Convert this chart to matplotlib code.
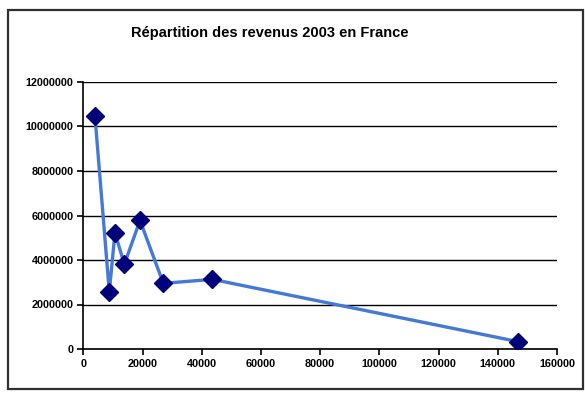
import matplotlib.pyplot as plt
from matplotlib.patches import Rectangle
from matplotlib.ticker import MultipleLocator, FuncFormatter

# revenu annuel (euros) et nombre de foyers par tranche
revenus = [3950, 8780, 10700, 13850, 19150, 27030, 43580, 146900]
foyers = [10450000, 2570000, 5230000, 3800000, 5780000, 2950000, 3130000, 330000]

titre = "Répartition des revenus 2003 en France"

W, H = 585, 394
fig = plt.figure(figsize=(W / 100, H / 100), dpi=100)
plt.rcParams['font.family'] = ['Liberation Sans', 'DejaVu Sans']

# cadre de la zone graphique
fig.patches.append(Rectangle((8 / W, 1 - 389 / H), 575 / W, 379 / H,
                             transform=fig.transFigure, fill=False,
                             edgecolor='#303030', linewidth=1.6))

ax = fig.add_axes([83.3 / W, 1 - 349 / H, (557 - 83.3) / W, (349 - 82) / H])
ax.plot(revenus, foyers, '-', color='#4479d6', linewidth=2.4, zorder=3)
ax.plot(revenus, foyers, 'D', color='#00007a', markersize=9.5, zorder=4,
        linestyle='none')

ax.set_xlim(0, 160000)
ax.set_ylim(0, 12000000)
ax.xaxis.set_major_locator(MultipleLocator(20000))
ax.yaxis.set_major_locator(MultipleLocator(2000000))
fmt = FuncFormatter(lambda v, p: f"{int(v)}")
ax.xaxis.set_major_formatter(fmt)
ax.yaxis.set_major_formatter(fmt)

ax.grid(axis='y', color='black', linewidth=1.0)
ax.set_axisbelow(True)
for s in ('top', 'right'):
    ax.spines[s].set_visible(False)
for s in ('left', 'bottom'):
    ax.spines[s].set_linewidth(1.2)
ax.tick_params(direction='out', length=4, width=1.2, pad=3,
               labelsize=7.8, colors='black')
for lab in ax.get_xticklabels() + ax.get_yticklabels():
    lab.set_fontweight('bold')

fig.text(270 / W, 1 - 33 / H, titre, ha='center', va='center',
         fontsize=10.5, fontweight='bold')

fig.savefig('out.png', dpi=100, facecolor='white')
